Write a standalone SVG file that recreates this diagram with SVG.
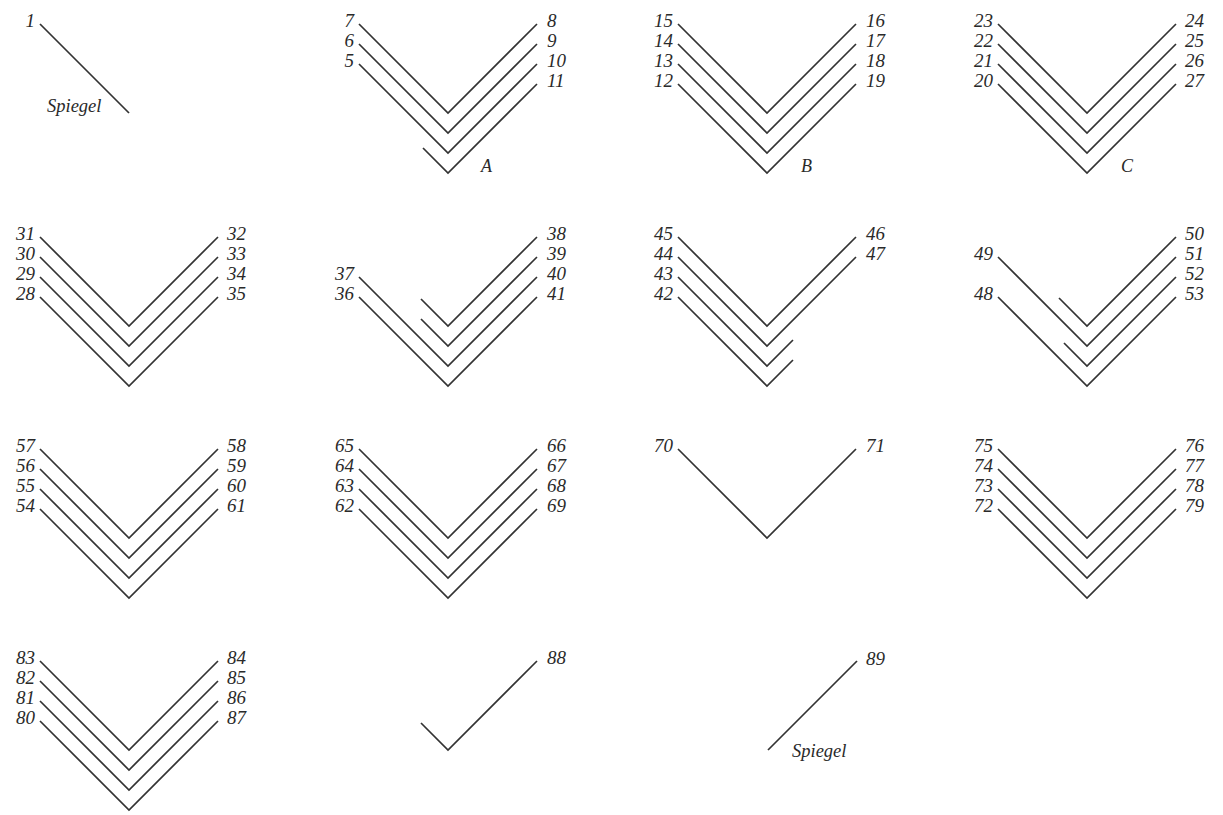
<svg xmlns="http://www.w3.org/2000/svg" width="1223" height="815" viewBox="0 0 1223 815">
<style>
.ln{fill:none;stroke:#333;stroke-width:1.7;stroke-linejoin:miter}
text{font-family:"Liberation Serif","DejaVu Serif",serif;font-style:italic;fill:#2a2a2a}
.n{font-size:19px}
.l{text-anchor:end}
.w{font-size:18.5px}
.t{font-size:18px}
</style>
<rect width="1223" height="815" fill="#fff"/>
<g id="connectors">
<!-- Row 1 -->
<polyline class="ln" points="40,24 129,113"/>
<polyline class="ln" points="359,24 448,113 537,24"/>
<polyline class="ln" points="359,44 448,133 537,44"/>
<polyline class="ln" points="359,64 448,153 537,64"/>
<polyline class="ln" points="423,148 448,173 537,84"/>
<polyline class="ln" points="678,24 767,113 856,24"/>
<polyline class="ln" points="678,44 767,133 856,44"/>
<polyline class="ln" points="678,64 767,153 856,64"/>
<polyline class="ln" points="678,84 767,173 856,84"/>
<polyline class="ln" points="998,24 1087,113 1176,24"/>
<polyline class="ln" points="998,44 1087,133 1176,44"/>
<polyline class="ln" points="998,64 1087,153 1176,64"/>
<polyline class="ln" points="998,84 1087,173 1176,84"/>
<!-- Row 2 -->
<polyline class="ln" points="40,237 129,326 218,237"/>
<polyline class="ln" points="40,257 129,346 218,257"/>
<polyline class="ln" points="40,277 129,366 218,277"/>
<polyline class="ln" points="40,297 129,386 218,297"/>
<polyline class="ln" points="421,299 448,326 537,237"/>
<polyline class="ln" points="421,319 448,346 537,257"/>
<polyline class="ln" points="359,277 448,366 537,277"/>
<polyline class="ln" points="359,297 448,386 537,297"/>
<polyline class="ln" points="678,237 767,326 856,237"/>
<polyline class="ln" points="678,257 767,346 856,257"/>
<polyline class="ln" points="678,277 767,366 793,340"/>
<polyline class="ln" points="678,297 767,386 793,360"/>
<polyline class="ln" points="1059,298 1087,326 1176,237"/>
<polyline class="ln" points="998,257 1087,346 1176,257"/>
<polyline class="ln" points="1064,343 1087,366 1176,277"/>
<polyline class="ln" points="998,297 1087,386 1176,297"/>
<!-- Row 3 -->
<polyline class="ln" points="40,449 129,538 218,449"/>
<polyline class="ln" points="40,469 129,558 218,469"/>
<polyline class="ln" points="40,489 129,578 218,489"/>
<polyline class="ln" points="40,509 129,598 218,509"/>
<polyline class="ln" points="359,449 448,538 537,449"/>
<polyline class="ln" points="359,469 448,558 537,469"/>
<polyline class="ln" points="359,489 448,578 537,489"/>
<polyline class="ln" points="359,509 448,598 537,509"/>
<polyline class="ln" points="678,449 767,538 856,449"/>
<polyline class="ln" points="998,449 1087,538 1176,449"/>
<polyline class="ln" points="998,469 1087,558 1176,469"/>
<polyline class="ln" points="998,489 1087,578 1176,489"/>
<polyline class="ln" points="998,509 1087,598 1176,509"/>
<!-- Row 4 -->
<polyline class="ln" points="40,661 129,750 218,661"/>
<polyline class="ln" points="40,681 129,770 218,681"/>
<polyline class="ln" points="40,701 129,790 218,701"/>
<polyline class="ln" points="40,721 129,810 218,721"/>
<polyline class="ln" points="421,723 448,750 537,661"/>
<polyline class="ln" points="768,750 857,661"/>
</g>
<g id="panel-1">
<text class="n l" x="35" y="27">1</text>
<text class="w" x="47" y="112">Spiegel</text>
</g>
<g id="panel-A">
<text class="n l" x="354" y="27">7</text><text class="n l" x="354" y="47">6</text><text class="n l" x="354" y="67">5</text>
<text class="n" x="547" y="27">8</text><text class="n" x="547" y="47">9</text><text class="n" x="547" y="67">10</text><text class="n" x="547" y="87">11</text>
<text class="t" x="481" y="172">A</text>
</g>
<g id="panel-B">
<text class="n l" x="673" y="27">15</text><text class="n l" x="673" y="47">14</text><text class="n l" x="673" y="67">13</text><text class="n l" x="673" y="87">12</text>
<text class="n" x="866" y="27">16</text><text class="n" x="866" y="47">17</text><text class="n" x="866" y="67">18</text><text class="n" x="866" y="87">19</text>
<text class="t" x="801" y="172">B</text>
</g>
<g id="panel-C">
<text class="n l" x="993" y="27">23</text><text class="n l" x="993" y="47">22</text><text class="n l" x="993" y="67">21</text><text class="n l" x="993" y="87">20</text>
<text class="n" x="1185" y="27">24</text><text class="n" x="1185" y="47">25</text><text class="n" x="1185" y="67">26</text><text class="n" x="1185" y="87">27</text>
<text class="t" x="1121" y="172">C</text>
</g>
<g id="panel-28-35">
<text class="n l" x="35" y="240">31</text><text class="n l" x="35" y="260">30</text><text class="n l" x="35" y="280">29</text><text class="n l" x="35" y="300">28</text>
<text class="n" x="227" y="240">32</text><text class="n" x="227" y="260">33</text><text class="n" x="227" y="280">34</text><text class="n" x="227" y="300">35</text>
</g>
<g id="panel-36-41">
<text class="n l" x="354" y="280">37</text><text class="n l" x="354" y="300">36</text>
<text class="n" x="547" y="240">38</text><text class="n" x="547" y="260">39</text><text class="n" x="547" y="280">40</text><text class="n" x="547" y="300">41</text>
</g>
<g id="panel-42-47">
<text class="n l" x="673" y="240">45</text><text class="n l" x="673" y="260">44</text><text class="n l" x="673" y="280">43</text><text class="n l" x="673" y="300">42</text>
<text class="n" x="866" y="240">46</text><text class="n" x="866" y="260">47</text>
</g>
<g id="panel-48-53">
<text class="n l" x="993" y="260">49</text><text class="n l" x="993" y="300">48</text>
<text class="n" x="1185" y="240">50</text><text class="n" x="1185" y="260">51</text><text class="n" x="1185" y="280">52</text><text class="n" x="1185" y="300">53</text>
</g>
<g id="panel-54-61">
<text class="n l" x="35" y="452">57</text><text class="n l" x="35" y="472">56</text><text class="n l" x="35" y="492">55</text><text class="n l" x="35" y="512">54</text>
<text class="n" x="227" y="452">58</text><text class="n" x="227" y="472">59</text><text class="n" x="227" y="492">60</text><text class="n" x="227" y="512">61</text>
</g>
<g id="panel-62-69">
<text class="n l" x="354" y="452">65</text><text class="n l" x="354" y="472">64</text><text class="n l" x="354" y="492">63</text><text class="n l" x="354" y="512">62</text>
<text class="n" x="547" y="452">66</text><text class="n" x="547" y="472">67</text><text class="n" x="547" y="492">68</text><text class="n" x="547" y="512">69</text>
</g>
<g id="panel-70-71">
<text class="n l" x="673" y="452">70</text>
<text class="n" x="866" y="452">71</text>
</g>
<g id="panel-72-79">
<text class="n l" x="993" y="452">75</text><text class="n l" x="993" y="472">74</text><text class="n l" x="993" y="492">73</text><text class="n l" x="993" y="512">72</text>
<text class="n" x="1185" y="452">76</text><text class="n" x="1185" y="472">77</text><text class="n" x="1185" y="492">78</text><text class="n" x="1185" y="512">79</text>
</g>
<g id="panel-80-87">
<text class="n l" x="35" y="664">83</text><text class="n l" x="35" y="684">82</text><text class="n l" x="35" y="704">81</text><text class="n l" x="35" y="724">80</text>
<text class="n" x="227" y="664">84</text><text class="n" x="227" y="684">85</text><text class="n" x="227" y="704">86</text><text class="n" x="227" y="724">87</text>
</g>
<g id="panel-88">
<text class="n" x="547" y="664">88</text>
</g>
<g id="panel-89">
<text class="n" x="866" y="665">89</text>
<text class="w" x="792" y="757">Spiegel</text>
</g>
</svg>
